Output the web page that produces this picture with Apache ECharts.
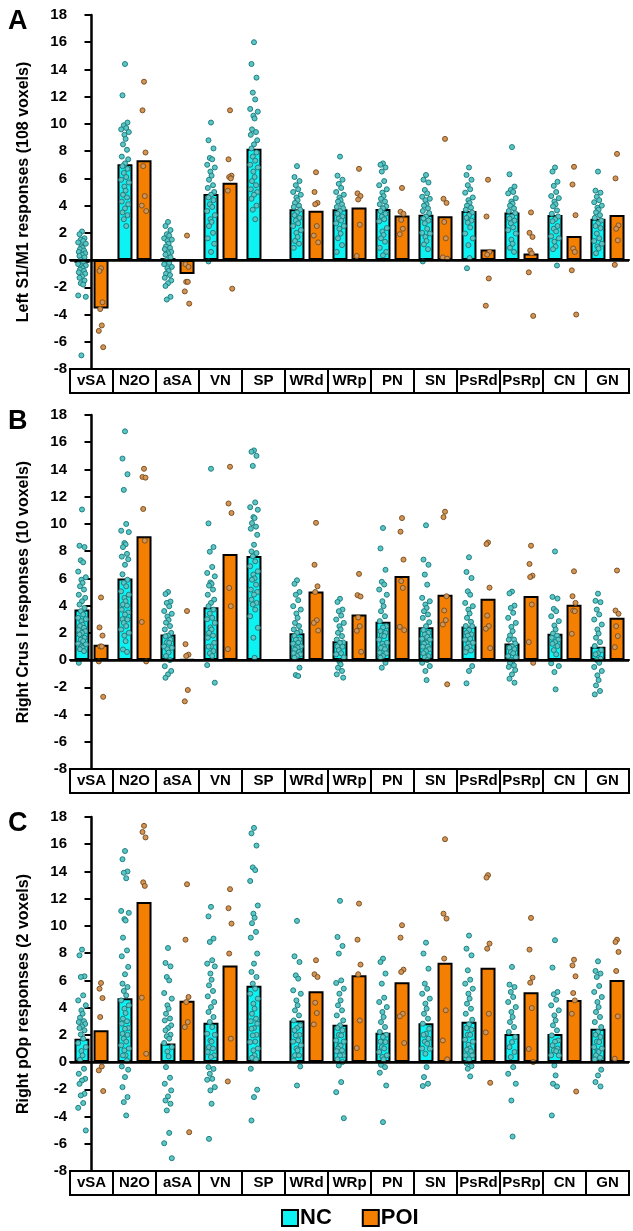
<!DOCTYPE html>
<html><head><meta charset="utf-8">
<script src="https://cdn.jsdelivr.net/npm/echarts/dist/echarts.min.js"></script>
<style>html,body{margin:0;padding:0;background:#fff}#c{width:633px;height:1231px}</style>
</head><body><div id="c"></div>
<script>
const categories = ['vSA','N2O','aSA','VN','SP','WRd','WRp','PN','SN','PsRd','PsRp','CN','GN'];
const yMin = -8, yMax = 18, yStep = 2;

// ---- Panel A: Left S1/M1 ----
const meanNC_A  = [-0.2,7.04,0.15,4.85,8.18,3.73,3.73,3.75,3.33,3.6,3.5,3.31,3.04];
const meanPOI_A = [-3.55,7.33,-1.03,5.68,null,3.63,3.87,3.28,3.21,0.78,0.49,1.76,3.31];
const ptsNC_A = [
 [2.1,1.9,1.6,1.5,1.4,1.3,1.2,1.0,0.9,0.8,0.7,0.6,0.5,0.4,0.3,0.2,0.0,-0.1,-0.3,-0.4,-0.5,-0.6,-0.7,-0.8,-0.9,-1.0,-1.2,-1.3,-1.5,-1.7,-1.8,-2.6,-2.7,-7.0],
 [14.4,12.1,10.1,9.9,9.7,9.6,9.4,9.2,8.9,8.5,8.1,7.6,7.4,7.1,6.9,6.7,6.4,6.1,5.9,5.7,5.4,5.1,4.8,4.6,4.3,4.1,3.8,3.5,3.3,3.0,2.5],
 [2.8,2.5,2.2,1.9,1.8,1.6,1.5,1.4,1.2,1.0,0.9,0.8,0.6,0.5,0.4,0.2,0.0,-0.2,-0.3,-0.5,-0.6,-0.8,-1.0,-1.1,-1.3,-1.5,-1.7,-1.9,-2.7,-2.9],
 [10.1,8.8,8.2,7.5,7.4,7.0,6.8,6.5,6.2,5.9,5.5,5.3,5.0,4.8,4.6,4.4,4.1,3.9,3.6,3.3,3.0,2.8,2.5,2.0,1.6,1.2,0.6,-0.1],
 [16.0,14.4,13.4,12.3,11.8,11.1,10.9,10.6,10.4,9.6,9.4,9.2,8.8,8.5,8.2,7.9,7.6,7.3,7.0,6.8,6.5,6.1,5.8,5.5,5.2,5.0,4.8,4.5,4.0,3.7,3.0],
 [6.9,6.1,5.8,5.5,5.2,5.0,4.8,4.6,4.4,4.2,4.0,3.9,3.7,3.5,3.3,3.1,2.9,2.7,2.5,2.2,2.0,1.7,1.4,1.2,0.9],
 [7.6,6.2,5.9,5.6,5.3,5.0,4.8,4.6,4.4,4.3,4.1,3.9,3.8,3.6,3.4,3.2,3.05,2.9,2.7,2.5,2.3,1.95,1.6,1.1,0.6],
 [7.1,7.0,6.8,6.5,5.8,5.5,5.2,4.95,4.7,4.5,4.3,4.1,3.95,3.8,3.6,3.4,3.2,3.0,2.85,2.35,2.1,1.85,1.6,1.35,0.9,0.6,0.35],
 [6.25,5.9,5.7,5.15,4.9,4.65,4.5,4.4,4.1,4.0,3.8,3.6,3.45,3.2,3.05,2.9,2.7,2.3,2.0,1.95,1.7,1.4,1.15,0.8,-0.1],
 [6.8,6.25,5.9,5.5,5.2,4.95,4.6,4.4,4.2,4.0,3.85,3.7,3.5,3.3,3.1,2.9,2.75,2.4,1.95,1.6,1.1,0.15,-0.6],
 [8.3,6.3,5.4,5.15,5.0,4.9,4.55,4.3,4.15,4.0,3.8,3.6,3.45,3.2,3.05,2.9,2.7,2.4,2.2,1.95,1.5,1.2,0.9,0.6],
 [6.8,6.5,5.75,5.45,5.0,4.7,4.55,4.3,4.1,3.95,3.65,3.4,3.2,3.0,2.85,2.5,2.3,2.1,1.75,1.6,1.35,1.0,0.8,-0.4],
 [6.5,5.1,4.95,4.65,4.4,4.25,4.0,3.85,3.7,3.5,3.3,3.1,2.9,2.7,2.5,2.35,1.95,1.6,1.4,1.2,1.0,0.85,0.5]
];
const ptsPOI_A = [
 [-0.6,-0.8,-3.1,-3.6,-4.8,-5.2,-6.4],
 [13.1,11.0,7.9,6.9,4.7,4.0,3.6],
 [1.8,-0.3,-0.5,-1.6,-1.6,-2.3,-3.2],
 [11.0,7.4,6.2,6.1,6.0,5.1,-2.1],
 [],
 [6.45,5.0,4.2,4.1,2.5,1.8,1.3],
 [6.7,4.9,4.7,4.45,2.6,0.3],
 [5.3,3.55,3.4,2.95,2.3,1.9],
 [8.9,4.5,4.2,2.8,1.6,0.2,0.1],
 [5.9,3.2,0.6,0.4,-1.35,-3.35],
 [3.5,2.0,1.7,0.7,0.5,-0.9,-4.1],
 [6.85,5.55,3.3,0.85,0.6,-0.75,-4.0],
 [7.8,6.0,2.55,2.3,1.45,-0.35]
];

// ---- Panel B: Right Crus I ----
const meanNC_B  = [3.72,6.0,1.87,3.88,7.64,1.97,1.39,2.81,2.42,2.46,1.22,1.93,0.97];
const meanPOI_B = [1.13,9.1,0.05,7.8,null,5.03,3.35,6.17,4.8,4.5,4.71,4.06,3.11];
const ptsNC_B = [
 [11.06,8.4,8.3,7.33,7.18,6.5,6.08,5.9,5.67,5.42,5.18,4.8,4.57,4.32,4.08,3.83,3.59,3.35,3.1,3.0,2.86,2.6,2.5,2.37,2.2,2.12,2.0,1.88,1.64,1.5,1.39,1.2,1.15,1.0,0.9,0.8,0.66,-0.2],
 [16.8,14.8,13.65,12.5,10.0,9.5,9.4,8.6,8.5,8.3,7.8,7.6,7.4,7.0,6.3,5.9,5.67,5.42,5.05,4.8,4.57,4.32,4.08,4.0,3.7,3.5,3.35,3.0,2.98,2.73,2.5,2.25,2.0,1.8,1.39,0.78,0.6],
 [5.0,4.85,4.3,4.2,3.95,3.6,3.4,3.2,2.95,2.75,2.5,2.25,2.0,1.8,1.75,1.5,1.3,1.27,1.0,0.9,0.8,0.55,0.3,0.0,-0.45,-0.8,-1.05,-1.3],
 [14.05,10.04,8.3,7.96,6.84,6.4,6.15,5.7,5.6,5.47,5.18,4.8,4.44,4.2,3.96,3.71,3.42,3.1,3.0,2.73,2.4,2.25,2.0,1.8,1.64,1.27,1.0,0.98,0.66,0.5,0.3,-0.37,-1.66],
 [15.4,15.3,15.0,14.26,11.58,11.23,11.04,10.5,10.43,10.06,9.8,9.65,9.2,8.47,7.98,7.86,7.62,7.25,6.89,6.52,6.28,6.0,5.9,5.54,5.18,5.0,4.81,4.44,4.2,4.08,3.71,3.22,2.37,1.64,0.17],
 [5.86,5.6,5.0,4.8,4.4,3.96,3.71,3.42,3.1,2.73,2.5,2.25,2.1,2.0,1.76,1.51,1.5,1.27,1.2,1.0,1.0,0.9,0.78,0.6,0.5,0.42,0.3,0.17,-0.56,-1.1,-1.17],
 [4.5,4.27,3.71,3.59,3.27,2.98,2.73,2.49,2.25,2.0,1.76,1.51,1.3,1.27,1.0,0.98,0.73,0.5,0.42,0.2,-0.1,-0.32,-0.56,-0.8,-1.05,-1.29],
 [9.7,8.2,6.63,5.75,5.55,5.18,4.8,4.32,3.96,3.59,3.22,2.86,2.49,2.4,2.12,2.0,1.8,1.76,1.5,1.27,1.2,1.0,0.9,0.8,0.54,0.5,0.3,0.17,-0.2,-0.56],
 [9.9,7.38,7.0,6.28,5.54,4.57,4.32,4.08,3.83,3.59,3.35,3.1,2.78,2.49,2.2,2.0,1.88,1.7,1.56,1.5,1.3,1.27,1.2,1.0,0.98,0.8,0.66,0.5,0.29,0.2,0.0,-0.2,-0.44,-0.8,-1.47],
 [7.55,6.47,6.03,5.05,4.8,4.2,3.96,3.71,3.42,3.1,2.81,2.5,2.49,2.2,2.0,1.88,1.8,1.56,1.5,1.27,1.2,1.0,0.9,0.7,0.59,-0.44,-0.8,-1.71],
 [5.03,4.9,4.0,3.83,3.47,3.1,2.73,2.44,2.12,1.81,1.51,1.5,1.22,1.0,0.9,0.8,0.59,0.5,0.29,0.2,0.0,-0.07,-0.2,-0.39,-0.5,-0.73,-1.05,-1.37,-1.66],
 [7.98,4.64,4.52,3.76,3.59,3.22,2.86,2.54,2.25,1.95,1.8,1.64,1.5,1.32,1.2,1.03,0.73,0.42,-0.24,-0.44,-0.88,-2.15],
 [4.88,4.35,4.25,3.71,3.35,2.98,2.61,2.25,1.95,1.64,1.32,1.03,0.73,0.5,0.42,0.1,0.0,-0.2,-0.51,-0.8,-1.12,-1.47,-1.86,-2.27,-2.52]
];
const ptsPOI_B = [
 [4.6,2.4,1.8,1.0,1.0,-0.1,-2.7],
 [14.05,13.45,13.4,11.1,8.77,2.8,-0.1],
 [3.6,1.17,0.4,0.3,-2.2,-3.03],
 [14.2,11.5,10.8,5.3,3.96,0.8],
 [],
 [10.08,7.0,5.42,5.0,2.93,2.73,2.17],
 [6.33,4.77,4.67,3.13,2.49,2.15,0.61],
 [10.43,9.43,7.38,5.8,5.3,2.44,2.2],
 [10.9,10.5,4.69,3.64,2.93,2.61,-1.78],
 [8.64,8.52,5.32,3.27,2.5,2.3,0.88],
 [8.4,7.06,6.2,6.1,4.08,1.32,-0.2],
 [6.52,4.69,4.2,3.64,3.59,1.93],
 [6.58,3.64,3.4,2.49,1.76,0.95]
];

// ---- Panel C: Right pOp ----
const meanNC_C  = [1.71,4.68,1.37,2.89,5.6,3.06,2.75,2.16,2.85,2.97,2.06,2.06,2.45];
const meanPOI_C = [2.33,11.76,4.5,7.09,null,5.21,6.38,5.86,7.3,6.93,5.13,4.56,6.02];
const ptsNC_C = [
 [8.26,7.84,6.3,6.25,4.9,4.53,4.17,3.8,3.55,3.26,3.0,2.94,2.8,2.62,2.5,2.33,2.03,1.72,1.4,1.1,0.81,0.49,0.17,-0.49,-0.86,-1.23,-1.35,-1.6,-2.33,-2.45,-3.01,-3.36,-5.02],
 [15.5,14.9,14.0,13.9,13.5,11.1,10.96,10.5,10.4,9.14,8.2,7.77,6.99,6.45,5.76,5.51,5.22,4.9,4.53,4.17,3.92,3.6,3.19,3.0,2.82,2.5,2.45,2.08,2.0,1.72,1.5,1.23,1.0,0.86,0.5,0.49,0.12,-0.32,-0.56,-1.1,-1.84,-2.57,-2.94,-3.92],
 [8.38,7.28,7.03,6.25,6.0,5.07,4.66,4.17,3.92,3.55,3.2,3.06,2.7,2.5,2.33,2.01,1.9,1.72,1.4,1.1,0.78,0.42,-0.37,-1.15,-1.59,-2.08,-2.52,-2.82,-3.06,-3.55,-5.2,-5.96,-7.06],
 [11.4,10.7,9.07,8.82,7.48,7.23,7.03,6.5,6.05,5.64,5.22,4.83,4.41,4.04,3.68,3.31,2.94,2.57,2.08,2.0,1.59,1.5,1.1,1.0,0.74,0.5,0.37,-0.37,-0.5,-0.86,-1.23,-1.3,-1.84,-2.08,-3.06,-5.64],
 [17.2,16.8,15.9,14.3,14.1,13.3,11.5,10.9,10.6,10.2,9.56,9.14,7.97,7.23,6.62,6.25,5.76,5.39,5.02,4.66,4.29,3.92,3.55,3.19,3.0,2.82,2.5,2.45,2.0,1.96,1.5,1.47,1.0,0.86,0.5,0.32,0.2,-0.49,-2.03,-2.57,-4.29],
 [10.37,7.77,7.35,6.37,6.13,5.27,5.02,4.53,4.17,3.8,3.43,3.06,2.7,2.5,2.33,2.0,1.96,1.59,1.5,1.23,1.0,0.86,0.5,0.49,0.12,-0.32,-1.72],
 [11.84,9.19,8.53,7.97,6.0,5.81,5.39,5.02,4.53,4.17,3.8,3.43,3.06,2.7,2.5,2.33,2.0,1.96,1.59,1.5,1.23,1.2,1.0,0.86,0.8,0.5,0.49,0.2,0.0,-0.25,-1.47,-2.21,-4.12],
 [7.6,7.35,6.5,5.76,4.73,4.41,4.04,3.68,3.31,2.94,2.57,2.21,2.0,1.84,1.5,1.47,1.1,1.0,0.74,0.5,0.37,0.2,-0.2,-0.37,-0.78,-1.72,-4.41],
 [8.77,7.97,6.86,5.76,5.39,5.02,4.66,4.29,3.92,3.55,3.19,2.82,2.45,2.08,2.0,1.72,1.5,1.35,1.0,0.98,0.61,-0.37,-1.1,-1.59,-1.76],
 [9.29,8.33,7.84,6.74,6.05,5.76,5.39,5.02,4.66,4.29,3.92,3.55,3.11,2.77,2.5,2.38,2.01,2.0,1.64,1.5,1.27,1.0,0.91,0.8,0.5,0.49,0.2,-0.07,-0.3,-0.49,-1.05],
 [6.99,5.69,5.51,5.15,4.78,4.41,4.04,3.68,3.31,2.94,2.57,2.21,1.84,1.47,1.1,0.74,0.37,-0.37,-0.86,-1.59,-2.82,-5.47],
 [8.95,6.94,5.15,4.98,4.58,4.17,3.8,3.43,3.06,2.7,2.33,1.96,1.59,1.5,1.23,1.0,0.86,0.8,0.5,0.49,-0.25,-0.98,-1.59,-1.79,-3.92],
 [7.4,6.69,6.5,6.25,5.59,5.15,4.78,4.41,4.04,3.68,3.31,2.94,2.57,2.21,2.0,1.84,1.5,1.47,1.1,1.0,0.8,0.74,0.5,0.32,0.2,-0.56,-0.98,-1.47,-1.79]
];
const ptsPOI_C = [
 [5.81,5.39,4.7,3.31,-0.32,-0.61,-2.13],
 [17.35,16.9,16.5,13.2,12.94,4.73,0.61],
 [13.06,8.99,4.78,4.41,2.94,2.57,-5.15],
 [12.7,11.3,10.17,7.97,1.72,-1.42],
 [],
 [7.48,6.45,6.25,4.36,3.6,2.77],
 [11.64,8.99,7.16,6.45,3.06,1.03],
 [10.05,9.14,6.79,6.62,3.55,3.36,1.4],
 [16.37,10.9,10.54,7.6,3.8,1.59,0.2],
 [13.73,13.55,8.7,8.33,3.55,2.18,-1.52],
 [10.59,8.26,6.2,5.83,3.97,0.96,0.0],
 [7.52,7.1,6.3,5.07,4.53,3.55,-2.16],
 [8.99,8.82,8.09,6.69,3.36,0.25]
];

const yNames = ['Left S1/M1 responses (108 voxels)','Right Crus I responses (10 voxels)','Right pOp responses (2 voxels)'];
const letters = ['A','B','C'];

// ---- layout / style ----
const FONT = '"Liberation Sans", Arial, sans-serif';
const tops = [15, 415, 817];
const gridH = 354, gridL = 70, gridR = 4;
const CYAN = '#0DF2F2', ORANGE = '#F57F00';
const BAR_W = 15, OFF = 0.221;
const jitNC = [0,-2.5,2.5,-1.2,1.2,-3.8,3.8,-0.6,0.6,-2,2,-3.2,3.2];
const jitPOI = [0,-1.5,1.5,-0.8,0.8,-2.2,2.2];

const panelData = [
  {nc: meanNC_A, poi: meanPOI_A, pn: ptsNC_A, pp: ptsPOI_A},
  {nc: meanNC_B, poi: meanPOI_B, pn: ptsNC_B, pp: ptsPOI_B},
  {nc: meanNC_C, poi: meanPOI_C, pn: ptsNC_C, pp: ptsPOI_C}
];

const grid = [], xAxis = [], yAxis = [], series = [], title = [];
panelData.forEach((pd, p) => {
  grid.push({left: gridL, right: gridR, top: tops[p], height: gridH});
  title.push({text: letters[p], left: 3, top: tops[p] - 12,
    textStyle: {fontFamily: FONT, fontWeight: 'bold', fontSize: 27, color: '#000'}});
  xAxis.push({
    type: 'category', gridIndex: p, data: categories, boundaryGap: true,
    axisLine: {show: true, lineStyle: {color: '#000', width: 2}},
    axisTick: {show: false},
    axisLabel: {
      interval: 0, margin: 1, fontFamily: FONT, fontWeight: 'bold', fontSize: 15, color: '#000',
      width: 41, height: 22, lineHeight: 22, align: 'center', verticalAlign: 'top',
      borderColor: '#000', borderWidth: 2, backgroundColor: '#fff', overflow: 'none'
    }
  });
  xAxis.push({type: 'value', gridIndex: p, min: -0.5, max: categories.length - 0.5, show: false});
  yAxis.push({
    type: 'value', gridIndex: p, min: yMin, max: yMax, interval: yStep,
    name: yNames[p], nameLocation: 'middle', nameGap: 38, nameRotate: 90,
    nameTextStyle: {fontFamily: FONT, fontWeight: 'bold', fontSize: 16, color: '#000'},
    axisLine: {show: true, lineStyle: {color: '#000', width: 2.5}},
    axisTick: {show: true, inside: false, length: 7, lineStyle: {color: '#000', width: 2}},
    axisLabel: {fontFamily: FONT, fontWeight: 'bold', fontSize: 15, color: '#000', margin: 3},
    splitLine: {show: false}
  });
  series.push({
    name: 'NC', type: 'bar', xAxisIndex: 2 * p, yAxisIndex: p, data: pd.nc,
    barWidth: BAR_W, barGap: '27%', z: 2,
    itemStyle: {color: CYAN, borderColor: '#000', borderWidth: 2},
    markLine: {silent: true, symbol: 'none', label: {show: false},
      lineStyle: {color: '#000', width: 2.5, type: 'solid'}, data: [{yAxis: 0}]}
  });
  series.push({
    name: 'POI', type: 'bar', xAxisIndex: 2 * p, yAxisIndex: p, data: pd.poi,
    barWidth: BAR_W, barGap: '27%', z: 2,
    itemStyle: {color: ORANGE, borderColor: '#000', borderWidth: 2}
  });
  const ncPts = [], poiPts = [];
  pd.pn.forEach((arr, i) => arr.forEach((v, j) => ncPts.push({value: [i - OFF, v], symbolOffset: [jitNC[j % jitNC.length], 0]})));
  pd.pp.forEach((arr, i) => arr.forEach((v, j) => poiPts.push({value: [i + OFF, v], symbolOffset: [jitPOI[j % jitPOI.length], 0]})));
  series.push({
    name: 'NC points', type: 'scatter', xAxisIndex: 2 * p + 1, yAxisIndex: p, data: ncPts,
    symbol: 'circle', symbolSize: 5, z: 4, silent: true,
    itemStyle: {color: '#5cc6c6', borderColor: '#1f7f80', borderWidth: 1, opacity: 1}
  });
  series.push({
    name: 'POI points', type: 'scatter', xAxisIndex: 2 * p + 1, yAxisIndex: p, data: poiPts,
    symbol: 'circle', symbolSize: 5, z: 4, silent: true,
    itemStyle: {color: '#d39455', borderColor: '#7d5325', borderWidth: 1, opacity: 1}
  });
});

const chart = echarts.init(document.getElementById('c'), null, {renderer: 'canvas'});
chart.setOption({
  animation: false,
  backgroundColor: '#fff',
  title: title,
  grid: grid, xAxis: xAxis, yAxis: yAxis, series: series,
  legend: {
    left: 276, top: 1202, itemWidth: 16, itemHeight: 16, itemGap: 30, selectedMode: false,
    textStyle: {fontFamily: FONT, fontWeight: 'bold', fontSize: 22, color: '#000', padding: [0, 0, 0, -3]},
    data: [
      {name: 'NC', icon: 'rect', itemStyle: {color: CYAN, borderColor: '#000', borderWidth: 2}},
      {name: 'POI', icon: 'rect', itemStyle: {color: ORANGE, borderColor: '#000', borderWidth: 2}}
    ]
  }
});
</script></body></html>
